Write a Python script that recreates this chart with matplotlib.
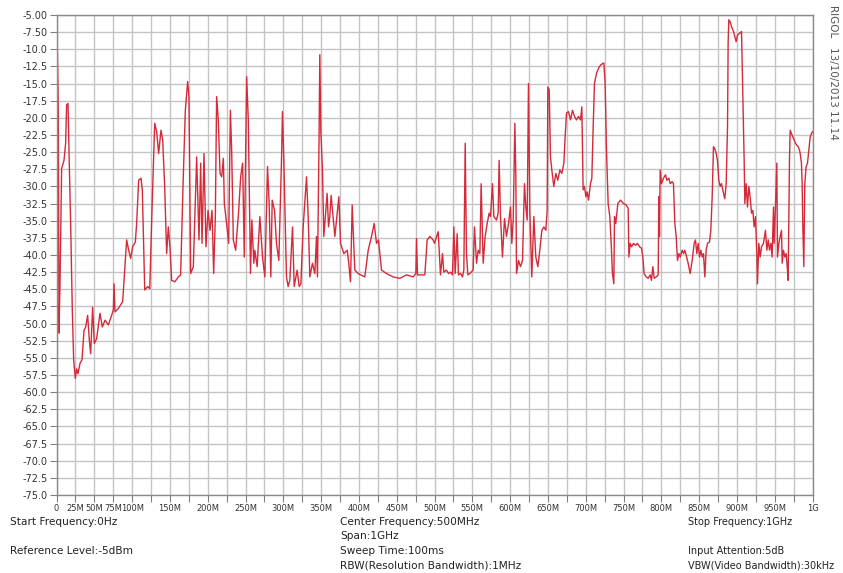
#!/usr/bin/env python3
import numpy as np
import matplotlib
matplotlib.use("Agg")
import matplotlib.pyplot as plt

"""
RIGOL spectrum analyser sweep, 0 Hz to 1 GHz
"""

# trace: frequency (MHz) and level (dBm)
freq_mhz = [
    0, 1.1, 2.4, 3.3, 4.6, 6.8, 9.9, 12.1, 13.4, 15.2, 16.5, 18.7, 20.9, 22.7, 24.9,
    26.7, 28.4, 31.1, 33.7, 36.4, 38.6, 41.2, 43.4, 45.2, 47.8, 50.0, 53.1, 57.5,
    60.6, 64.2, 68.6, 72.9, 75.2, 76.1, 77.4, 81.8, 87.5, 92.8, 95.5, 98.1, 100.7,
    104.3, 106.0, 108.7, 111.8, 113.5, 116.7, 120.6, 123.4, 126.3, 129.9, 132.5,
    135.1, 138.2, 140.4, 143.1, 145.7, 147.9, 150.1, 152.3, 156.7, 161.1, 164.2,
    167.7, 170.4, 173.5, 175.2, 177.5, 181.0, 185.4, 188.5, 190.7, 192.5, 195.1,
    197.7, 200.4, 203.0, 205.7, 207.9, 210.1, 211.8, 214.0, 216.3, 218.5, 220.7,
    222.0, 225.0, 227.7, 230.0, 231.7, 233.9, 237.0, 241.0, 243.6, 246.2, 248.4,
    251.5, 253.7,
    256.6, 258.4, 261.0, 262.3, 265.4, 269.0, 272.5, 275.6, 279.1, 281.3, 283.5,
    285.3, 288.4, 291.0, 294.1, 297.6, 298.9, 300.7, 304.2, 306.4, 308.6, 312.2,
    314.4, 318.3, 321.0, 323.2, 326.3, 330.7, 332.9, 335.1, 338.6, 341.7, 343.9,
    345.2, 347.4, 348.3, 349.6, 351.8, 353.6, 358.0, 359.8, 361.5, 363.3, 368.2,
    373.5, 375.7, 380.1, 384.5, 386.2, 388.9, 391.1, 394.6, 399.0, 407.8, 412.3,
    416.7, 420.2, 423.3, 425.9, 429.9, 436.5, 445.3, 454.1, 463.0, 471.8, 475.3,
    476.2, 477.5, 487.2, 490.3, 493.8, 498.2,
    500, 504.9, 507.9, 510.6, 512.3, 515.9, 518.5, 521.2, 523.8, 525.6, 527.3,
    530.0, 531.7, 534.4, 537.0, 538.8, 540.6, 542.3, 544.1, 546.7, 551.1, 552.9,
    555.6, 557.8, 560.0, 561.7, 564.4, 567.0, 569.7, 572.3, 574.1, 576.7, 578.5,
    582.0, 584.2, 585.5, 587.3, 589.9, 592.6, 595.2, 597.9, 600.5, 602.3, 604.1,
    606.3, 607.6, 608.5, 611.1, 613.8, 616.4, 619.0, 620.8, 622.6, 624.3, 626.1,
    628.7, 631.4, 634.0, 636.7, 639.3, 642.0, 644.6, 647.3, 649.0, 649.9, 651.7,
    653.4, 655.2, 657.8, 660.5, 663.1, 665.8, 668.4, 671.1, 672.8, 674.6, 677.2,
    679.9, 682.5, 685.2, 687.8, 690.5, 693.1, 694.9, 696.6, 698.4, 700.2, 701.9,
    703.7, 706.3, 708.1, 709.9, 711.6, 714.3, 716.9, 719.6, 722.2, 724.0, 725.7,
    727.5, 729.7, 731.9, 733.7, 735.4, 737.2, 738.1, 739.8, 742.5, 746.0,
    750, 753.5, 756.2, 757.1, 758.8, 760.6, 763.2, 765.9, 768.5, 771.2, 773.8,
    775.6, 777.3, 780.0, 782.6, 785.3, 787.0, 788.8, 790.6, 793.2, 795.9, 796.7,
    797.6, 798.5, 800.3, 802.9, 805.6, 807.3, 810.0, 811.7, 814.4, 816.1, 817.9,
    819.7, 821.4, 823.2, 825.0, 827.6, 829.4, 831.1, 832.9, 835.5, 838.2, 840.8,
    843.5, 845.2, 847.0, 848.8, 850.5, 852.3, 854.1, 855.8, 857.6, 859.3, 861.1,
    863.8, 865.5, 867.3, 869.0, 870.8, 872.6, 874.3, 876.1, 877.9, 879.6, 882.3,
    884.0, 885.8, 887.6, 888.4, 889.3, 891.1, 892.9, 895.5, 897.3, 899.0, 900.8,
    903.4, 906.1, 907.8, 909.6, 910.5, 912.3, 914.0, 915.8, 917.5, 919.3, 921.1,
    922.8, 924.6, 926.4, 927.2, 929.0, 930.8, 932.5, 935.2, 937.8, 939.6, 941.4,
    943.1, 944.9, 946.6, 948.4, 949.3, 951.0, 952.8, 953.7, 955.5, 957.2, 959.0,
    959.9, 961.6, 963.4, 965.2, 966.9, 967.8, 969.6, 970.5, 972.2, 974.0, 975.7,
    977.5, 979.3, 981.0, 982.8, 983.7, 985.4, 986.3, 987.2, 988.5, 989.8, 991.6,
    993.4, 995.1, 996.9, 998.7, 1000,
]
level_dbm = [
    -7.9, -9.6, -18.9, -51.4, -44.2, -27.4, -26.2, -23.7, -18.1, -17.9, -24.7, -35.4,
    -48.0, -55.3, -58.0, -56.6, -57.3, -55.8, -55.3, -51.0, -50.5, -48.8, -52.4,
    -54.4, -47.6, -52.9, -52.2, -48.5, -50.5, -49.5, -50.2, -48.8, -48.0, -44.2,
    -48.3, -47.8, -46.8, -37.8, -39.3, -40.5, -38.8, -38.1, -35.4, -29.1, -28.8,
    -30.5, -45.1, -44.6, -44.9, -33.5, -20.8, -22.0, -25.2, -21.8, -23.2, -30.0,
    -39.8, -35.9, -38.8, -43.7, -43.9, -43.2, -42.9, -28.6, -18.9, -14.7, -16.9,
    -42.7, -41.7, -25.7, -37.8, -26.6, -38.3, -25.2, -38.8, -33.5, -36.4, -33.5,
    -42.7, -34.4, -16.9, -20.3, -28.1, -28.6, -25.9, -32.5, -35.4, -38.3, -18.9,
    -24.7, -37.8, -39.3, -33.5, -28.6, -26.6, -40.3, -14.0, -20.3,
    -42.7, -34.9, -41.2, -39.3, -41.7, -34.4, -40.3, -43.2, -27.1, -32.5, -43.2,
    -32.0, -33.5, -38.3, -40.8, -26.2, -19.1, -26.2, -43.2, -44.6, -43.7, -35.9,
    -44.6, -42.2, -44.6, -44.2, -35.9, -28.6, -34.4, -43.2, -41.2, -42.7, -37.3,
    -43.2, -21.8, -10.8, -21.8, -27.6, -37.3, -31.0, -35.9, -34.4, -31.3, -37.3,
    -31.5, -38.3, -39.8, -39.3, -40.8, -43.9, -32.7, -42.2, -42.7, -43.2, -39.3,
    -37.3, -35.4, -38.3, -37.8, -42.2, -42.7, -43.2, -43.4, -42.9, -43.2, -42.7,
    -37.6, -42.9, -42.9, -37.8, -37.3, -37.8,
    -38.3, -36.6, -42.9, -39.8, -42.5, -42.2, -42.7, -42.5, -42.9, -35.9, -42.7,
    -36.9, -42.9, -42.7, -43.2, -42.2, -23.7, -39.8, -42.9, -42.7, -42.2, -35.9,
    -41.2, -39.3, -39.8, -29.6, -41.2, -37.3, -35.4, -33.9, -34.4, -29.6, -34.4,
    -34.9, -33.9, -26.2, -34.4, -40.3, -34.7, -37.3, -35.4, -33.0, -38.3, -34.9,
    -20.8, -28.6, -42.7, -40.8, -41.7, -40.8, -29.6, -33.0, -34.9, -15.0, -33.5,
    -43.2, -34.4, -40.3, -41.7, -39.3, -36.4, -35.9, -36.4, -33.5, -15.5, -15.9,
    -25.7, -27.6, -30.0, -28.1, -29.1, -27.6, -28.1, -26.6, -22.8, -19.3, -19.1,
    -20.3, -18.9, -19.8, -20.3, -19.8, -20.3, -18.4, -30.5, -30.0, -31.5, -30.8,
    -32.0, -29.6, -28.8, -21.3, -15.0, -13.5, -12.8, -12.3, -12.1, -12.0, -15.0,
    -24.7, -32.5, -34.4, -38.3, -42.7, -44.2, -34.4, -35.4, -32.5, -32.0,
    -32.5, -32.7, -33.2, -40.3, -38.3, -38.8, -38.3, -38.6, -38.3, -38.8, -39.0,
    -40.3, -42.7, -43.2, -43.4, -42.9, -43.7, -41.7, -43.4, -43.2, -42.9, -31.5,
    -37.3, -27.6, -29.6, -28.8, -28.3, -29.1, -28.8, -29.6, -29.3, -29.6, -35.4,
    -37.3, -40.8, -39.8, -40.3, -39.3, -39.8, -39.3, -40.0, -41.2, -42.7, -40.8,
    -38.3, -37.8, -39.8, -38.3, -40.3, -39.3, -40.3, -39.8, -43.2, -39.3, -38.3,
    -38.1, -36.4, -31.5, -24.2, -24.5, -25.2, -26.2, -29.1, -30.0, -29.6, -31.0,
    -31.8, -29.6, -21.3, -9.1, -5.7, -6.0, -6.7, -7.4, -8.2, -8.9, -7.9,
    -7.7, -7.4, -16.4, -26.2, -32.5, -29.6, -33.0, -30.0, -31.5, -33.9, -33.5,
    -35.9, -34.4, -39.8, -44.2, -38.3, -40.3, -38.8, -38.3, -36.4, -39.3, -37.8,
    -39.3, -38.3, -40.3, -33.0, -38.3, -33.0, -26.6, -40.3, -38.3, -37.3, -36.4,
    -41.2, -39.3, -40.3, -39.8, -42.2, -43.7, -25.7, -21.8, -22.3, -22.8, -23.2,
    -23.7, -24.0, -24.2, -24.7, -25.2, -26.6, -29.6, -35.9, -41.7, -29.6, -27.1,
    -26.6, -24.7, -22.8, -22.3, -22.0,
]

y_ticks = np.arange(-75.0, -4.99, 2.5)
y_labels = [f"{v:.2f}" if abs(v) < 10 else f"{v:.1f}" for v in y_ticks]
x_ticks = np.arange(0, 1001, 25)
x_labeled = {0: "0", 25: "25M", 50: "50M", 75: "75M", 100: "100M", 150: "150M",
             200: "200M", 250: "250M", 300: "300M", 350: "350M", 400: "400M",
             450: "450M", 500: "500M", 550: "550M", 600: "600M", 650: "650M",
             700: "700M", 750: "750M", 800: "800M", 850: "850M", 900: "900M",
             950: "950M", 1000: "1G"}
x_labels = [x_labeled.get(int(v), "") for v in x_ticks]

left_info = ["Start Frequency:0Hz", "", "Reference Level:-5dBm"]
center_info = ["Center Frequency:500MHz", "Span:1GHz", "Sweep Time:100ms",
               "RBW(Resolution Bandwidth):1MHz"]
right_info = ["Stop Frequency:1GHz", "", "Input Attention:5dB",
              "VBW(Video Bandwidth):30kHz"]
stamp = "RIGOL   13/10/2013 11.14"

W, H = 843, 573
fig = plt.figure(figsize=(W / 100, H / 100), dpi=100)
ax = fig.add_axes([56.5 / W, 1 - 495 / H, 756 / W, 480 / H])

ax.plot(freq_mhz, level_dbm, color="#d42a3a", lw=1.0)

ax.set_xlim(0, 1000)
ax.set_ylim(-75, -5)
ax.set_yticks(y_ticks)
ax.set_yticklabels(y_labels, fontsize=7, color="#333333")
ax.set_xticks(x_ticks)
ax.set_xticklabels(x_labels, fontsize=6, color="#333333")
ax.tick_params(length=5, width=0.8, color="#808080", pad=1.5)
ax.grid(color="#c4c4c4", lw=1.0)
for s in ax.spines.values():
    s.set_color("#8a8a8a")
    s.set_linewidth(1.0)

rows = [522, 536, 551, 566]
for col_x, lines, fs in [(10, left_info, 7.6), (340, center_info, 7.6),
                         (688, right_info, 7.0)]:
    for y, txt in zip(rows, lines):
        if txt:
            fig.text(col_x / W, 1 - y / H, txt, fontsize=fs, color="#222222",
                     va="center", ha="left")

fig.text(833 / W, 1 - 5 / H, stamp, rotation=270, fontsize=7.5,
         color="#555555", ha="center", va="top")

fig.savefig("out.png", dpi=100)
